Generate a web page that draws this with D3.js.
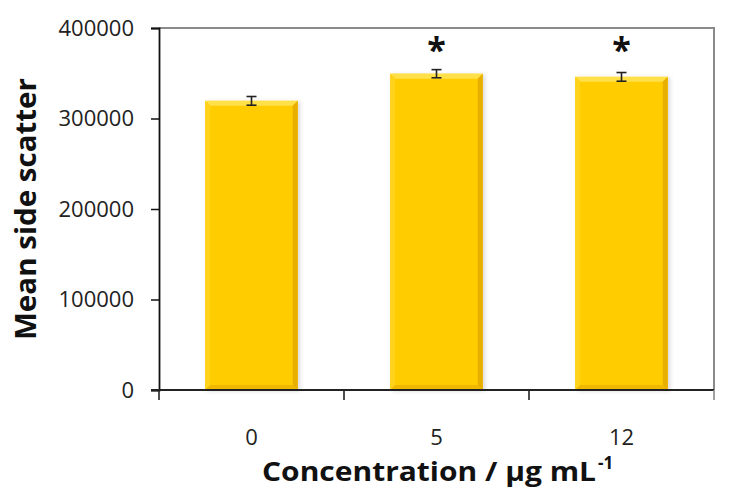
<!DOCTYPE html>
<html>
<head>
<meta charset="utf-8">
<script src="https://cdn.jsdelivr.net/npm/d3@7"></script>
<style>
    body { margin: 0; background: #fff; }
    svg { font-family: 'Open Sans', sans-serif; }
</style>
</head>
<body>
<svg id="chart" width="734" height="500"></svg>
<script>
    // values
    const categories = ["0", "5", "12"];
    const meanValues = [319500, 349500, 346000];
    const errorValues = [4800, 4500, 4800];
    const significant = [false, true, true];
    const yTicks = [0, 100000, 200000, 300000, 400000];

    const width = 734, height = 500;
    const margin = { top: 28, right: 20, bottom: 110, left: 159 };

    const svg = d3.select("#chart");

    const x = d3.scaleBand()
        .domain(categories)
        .range([margin.left, width - margin.right])
        .paddingInner(0.5)
        .paddingOuter(0.25);

    const y = d3.scaleLinear()
        .domain([0, 400000])
        .range([height - margin.bottom, margin.top]);

    const defs = svg.append("defs");
    defs.append("filter")
        .attr("id", "barShadow")
        .attr("x", "-20%").attr("y", "-20%")
        .attr("width", "140%").attr("height", "140%")
        .append("feDropShadow")
        .attr("dx", 2).attr("dy", 1)
        .attr("stdDeviation", 2)
        .attr("flood-color", "#000")
        .attr("flood-opacity", 0.15);

    // plot frame: grey top and right edges
    const x0 = x.range()[0], x1 = x.range()[1];
    const yTop = y(400000), yBase = y(0);
    svg.append("path")
        .attr("d", `M${x0},${yTop}H${x1}V${yBase}`)
        .attr("fill", "none")
        .attr("stroke", "#8a8a8a")
        .attr("stroke-width", 2);

    // bars with a bevel look
    const bevel = 5;
    const bars = svg.append("g");
    categories.forEach((c, i) => {
        const bx0 = x(c), bx1 = x(c) + x.bandwidth();
        const by0 = y(meanValues[i]), by1 = y(0);
        const g = bars.append("g").attr("filter", "url(#barShadow)");
        g.append("rect")
            .attr("x", bx0).attr("y", by0)
            .attr("width", bx1 - bx0).attr("height", by1 - by0)
            .attr("fill", "#ffcc00");
        const b = bevel;
        const faces = [
            { pts: [[bx0, by0], [bx1, by0], [bx1 - b, by0 + b], [bx0 + b, by0 + b]], fill: "#ffe04a" },
            { pts: [[bx0, by0], [bx0 + b, by0 + b], [bx0 + b, by1 - b], [bx0, by1]], fill: "#ffd21a" },
            { pts: [[bx1, by0], [bx1, by1], [bx1 - b, by1 - b], [bx1 - b, by0 + b]], fill: "#e8ae00" },
            { pts: [[bx0, by1], [bx0 + b, by1 - b], [bx1 - b, by1 - b], [bx1, by1]], fill: "#f0b800" }
        ];
        faces.forEach(f => {
            g.append("path")
                .attr("d", d3.line()(f.pts) + "Z")
                .attr("fill", f.fill);
        });
    });

    // error bars
    const cap = 5;
    const err = svg.append("g").attr("stroke", "#222").attr("stroke-width", 1.6);
    categories.forEach((c, i) => {
        const cx = x(c) + x.bandwidth() / 2;
        const hi = y(meanValues[i] + errorValues[i]);
        const lo = y(meanValues[i] - errorValues[i]);
        err.append("line").attr("x1", cx).attr("x2", cx).attr("y1", hi).attr("y2", lo);
        err.append("line").attr("x1", cx - cap).attr("x2", cx + cap).attr("y1", hi).attr("y2", hi);
        err.append("line").attr("x1", cx - cap).attr("x2", cx + cap).attr("y1", lo).attr("y2", lo);
    });

    // significance stars
    categories.forEach((c, i) => {
        if (!significant[i]) return;
        svg.append("text")
            .attr("x", x(c) + x.bandwidth() / 2)
            .attr("y", 62)
            .attr("text-anchor", "middle")
            .attr("font-size", 34)
            .attr("font-weight", "bold")
            .attr("fill", "#111")
            .text("*");
    });

    // y axis
    const yAxis = svg.append("g")
        .attr("transform", `translate(${x0},0)`)
        .call(d3.axisLeft(y).tickValues(yTicks).tickSize(8).tickPadding(17).tickFormat(d3.format("d")));
    yAxis.select(".domain").attr("stroke", "#111").attr("stroke-width", 1.8);
    yAxis.selectAll(".tick line").attr("stroke", "#111").attr("stroke-width", 1.5);
    yAxis.selectAll(".tick text")
        .attr("font-size", 22)
        .attr("fill", "#222")
        .attr("font-family", "'Open Sans', sans-serif");

    // x axis baseline with separators between categories
    const xAxis = svg.append("g");
    xAxis.append("line")
        .attr("x1", x0 - 8).attr("x2", x1)
        .attr("y1", yBase).attr("y2", yBase)
        .attr("stroke", "#222").attr("stroke-width", 1.8);
    d3.range(categories.length + 1).forEach(k => {
        const tx = x0 + k * x.step();
        xAxis.append("line")
            .attr("x1", tx).attr("x2", tx)
            .attr("y1", yBase).attr("y2", yBase + 10)
            .attr("stroke", k === categories.length ? "#8a8a8a" : "#222")
            .attr("stroke-width", 1.6);
    });
    categories.forEach(c => {
        xAxis.append("text")
            .attr("x", x(c) + x.bandwidth() / 2)
            .attr("y", 445)
            .attr("text-anchor", "middle")
            .attr("font-size", 22)
            .attr("fill", "#222")
            .text(c);
    });

    // axis titles
    svg.append("text")
        .attr("transform", "translate(36,209) rotate(-90)")
        .attr("text-anchor", "middle")
        .attr("font-size", 29)
        .attr("font-weight", "bold")
        .attr("fill", "#111")
        .attr("textLength", 262)
        .attr("lengthAdjust", "spacingAndGlyphs")
        .text("Mean side scatter");

    svg.append("text")
        .attr("x", 262)
        .attr("y", 481)
        .attr("font-size", 27)
        .attr("font-weight", "bold")
        .attr("fill", "#111")
        .attr("textLength", 334)
        .attr("lengthAdjust", "spacingAndGlyphs")
        .text("Concentration / \u00b5g mL");
    svg.append("text")
        .attr("x", 598)
        .attr("y", 469)
        .attr("font-size", 17)
        .attr("font-weight", "bold")
        .attr("fill", "#111")
        .text("-1");
</script>
</body>
</html>
